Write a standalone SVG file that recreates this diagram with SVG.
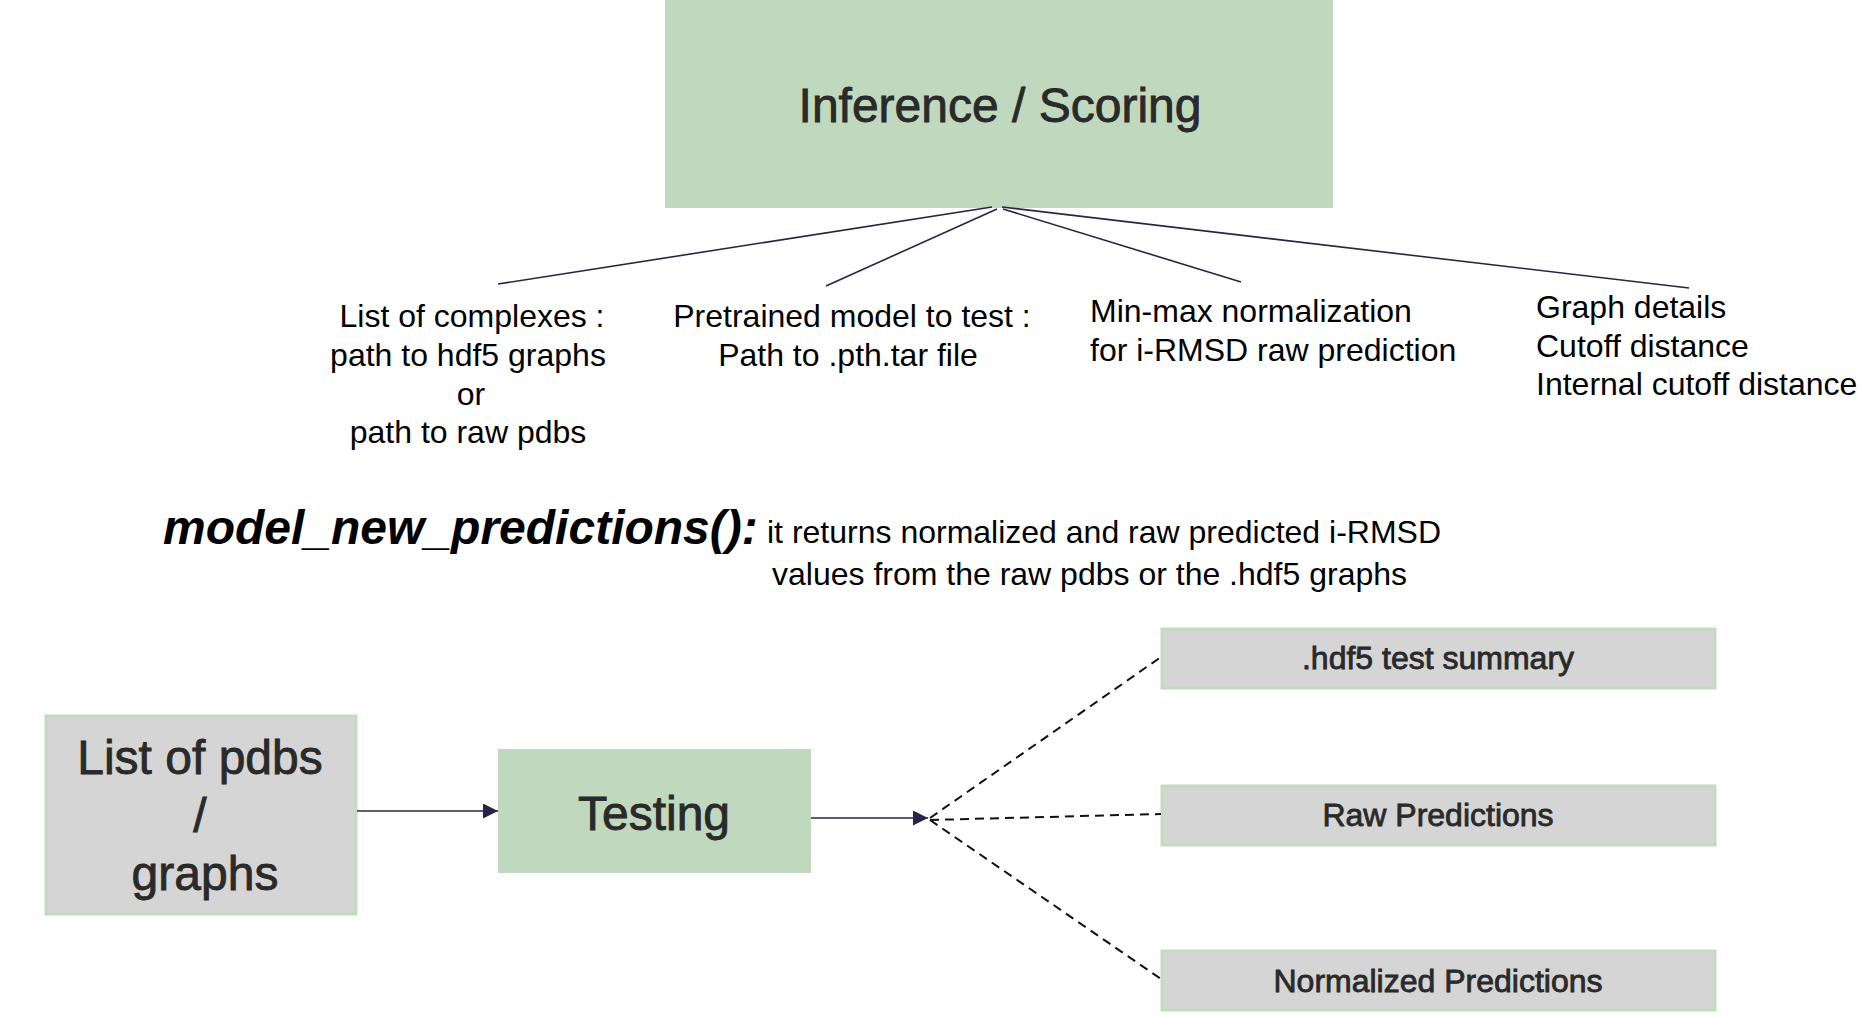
<svg xmlns="http://www.w3.org/2000/svg" width="1863" height="1030" viewBox="0 0 1863 1030">
  <defs>
    <style>
      .green { fill: #c0d8bd; }
      .gray { fill: #d5d5d5; stroke: #c3dcc0; stroke-width: 3; }
      .boxtxt { font-family: "Liberation Sans", Arial, sans-serif; fill: #2a2a2a; stroke: #1a1a1a; stroke-width: 0.8; paint-order: stroke; text-anchor: middle; }
      .lbl { font-family: "Liberation Sans", Arial, sans-serif; font-size: 32px; fill: #000; }
      .mid { text-anchor: middle; }
      .conn { stroke: #2b2346; stroke-width: 1.6; fill: none; }
      .dash { stroke: #111; stroke-width: 2; fill: none; stroke-dasharray: 9 6; }
    </style>
    <marker id="arr" viewBox="0 0 10 10" refX="10" refY="5" markerWidth="15" markerHeight="15" markerUnits="userSpaceOnUse" orient="auto">
      <path d="M0,0 L10,5 L0,10 Z" fill="#2b2346"/>
    </marker>
  </defs>
  <rect width="1863" height="1030" fill="#ffffff"/>

  <g id="inference">
    <rect class="green" x="665" y="0" width="668" height="208"/>
    <text class="boxtxt" x="1000" y="122" font-size="48">Inference / Scoring</text>
  </g>

  <g id="label-complexes" class="lbl mid">
    <text x="472" y="327">List of complexes :</text>
    <text x="468" y="366">path to hdf5 graphs</text>
    <text x="471" y="405">or</text>
    <text x="468" y="443">path to raw pdbs</text>
  </g>
  <g id="label-pretrained" class="lbl mid">
    <text x="852" y="327">Pretrained model to test :</text>
    <text x="848" y="366">Path to .pth.tar file</text>
  </g>
  <g id="label-minmax" class="lbl">
    <text x="1090" y="322">Min-max normalization</text>
    <text x="1090" y="361">for i-RMSD raw prediction</text>
  </g>
  <g id="label-graph" class="lbl">
    <text x="1536" y="318">Graph details</text>
    <text x="1536" y="357">Cutoff distance</text>
    <text x="1536" y="395">Internal cutoff distance</text>
  </g>

  <g id="description">
    <text x="163" y="544" font-family="'Liberation Sans', Arial, sans-serif" font-size="48" font-weight="bold" font-style="italic" fill="#000">model_new_predictions():</text>
    <text class="lbl" x="767" y="543">it returns normalized and raw predicted i-RMSD</text>
    <text class="lbl" x="772" y="585">values from the raw pdbs or the .hdf5 graphs</text>
  </g>

  <g id="list-pdbs">
    <rect class="gray" x="46" y="716" width="310" height="198"/>
    <text class="boxtxt" x="200" y="774" font-size="48">List of pdbs</text>
    <text class="boxtxt" x="200" y="832" font-size="48">/</text>
    <text class="boxtxt" x="205" y="890" font-size="48">graphs</text>
  </g>

  <g id="testing">
    <rect class="green" x="498" y="749" width="313" height="124"/>
    <text class="boxtxt" x="654" y="830" font-size="48">Testing</text>
  </g>

  <g id="hdf5-summary">
    <rect class="gray" x="1162" y="629" width="553" height="59"/>
    <text class="boxtxt" x="1438" y="669" font-size="32">.hdf5 test summary</text>
  </g>
  <g id="raw-predictions">
    <rect class="gray" x="1162" y="786" width="553" height="59"/>
    <text class="boxtxt" x="1438" y="826" font-size="32">Raw Predictions</text>
  </g>
  <g id="normalized-predictions">
    <rect class="gray" x="1162" y="951" width="553" height="59"/>
    <text class="boxtxt" x="1438" y="992" font-size="32">Normalized Predictions</text>
  </g>

  <g id="connectors">
    <line class="conn" x1="992" y1="207" x2="498" y2="284"/>
    <line class="conn" x1="997" y1="209" x2="826" y2="286"/>
    <line class="conn" x1="1003" y1="209" x2="1241" y2="282"/>
    <line class="conn" x1="1002" y1="207" x2="1689" y2="288"/>
    <line class="conn" x1="357" y1="811" x2="498" y2="811" marker-end="url(#arr)"/>
    <line class="conn" x1="811" y1="818" x2="928" y2="818" marker-end="url(#arr)"/>
    <line class="dash" x1="930" y1="818" x2="1161" y2="657"/>
    <line class="dash" x1="930" y1="820" x2="1161" y2="814"/>
    <line class="dash" x1="930" y1="820" x2="1161" y2="979"/>
  </g>
</svg>
